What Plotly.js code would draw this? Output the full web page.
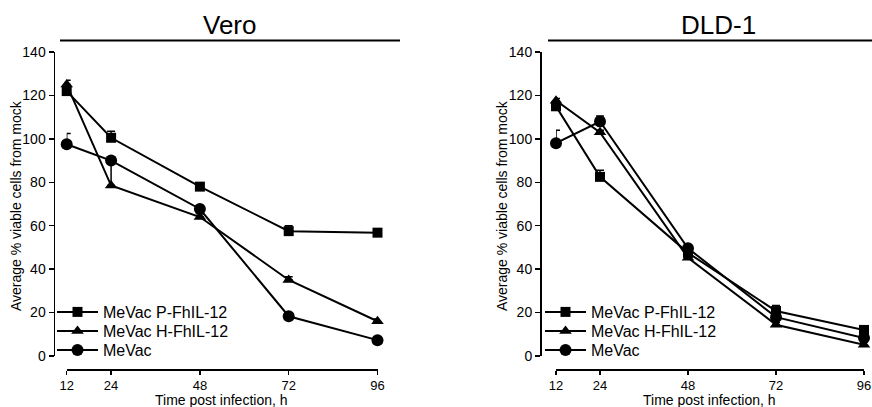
<!DOCTYPE html>
<html>
<head>
<meta charset="utf-8">
<script src="https://cdn.plot.ly/plotly-3.0.1.min.js"></script>
<style>html,body{margin:0;padding:0;background:#fff;}#chart{width:872px;height:407px;}</style>
</head>
<body>
<div id="chart"></div>
<script>
// ---- data ----
const hours = [12, 24, 48, 72, 96];
const tickLabels = ['12', '24', '48', '72', '96'];
const seriesNames = ['MeVac P-FhIL-12', 'MeVac H-FhIL-12', 'MeVac'];

const veroP = [122, 100.5, 78, 57.5, 56.8];
const veroPErr = [1, 3, 1, 2.5, 1.5];
const veroH = [125, 78.5, 64, 35, 16];
const veroHErr = [2, 11, 1.5, 1.5, 1];
const veroM = [97.5, 90, 67.7, 18.3, 7.3];
const veroMErr = [5, 1, 1, 1, 1];

const dldP = [115, 82.5, 47.5, 20.7, 12];
const dldPErr = [1.5, 3, 1, 2.6, 1.5];
const dldH = [117.6, 103, 45.2, 14.4, 5.2];
const dldHErr = [1, 1, 1, 1, 1];
const dldM = [98, 108, 49.6, 17.9, 8.3];
const dldMErr = [6, 2.5, 1, 1, 1];

// ---- layout helpers ----
const W = 872, H = 407;
const px = x => x / W;
const py = y => (H - y) / H;
const FONT = 'Arial, "Liberation Sans", Helvetica, sans-serif';

const symbols = ['square', 'triangle-up', 'circle'];
const sizes = [10, 11, 12];

function mk(y, err, i, xa, ya, leg) {
  return {
    x: hours, y: y, name: seriesNames[i], type: 'scatter', mode: 'lines+markers',
    xaxis: xa, yaxis: ya, legend: leg, cliponaxis: false,
    line: {color: '#000', width: 2},
    marker: {symbol: symbols[i], size: sizes[i], color: '#000'},
    error_y: {type: 'data', symmetric: false, array: err, arrayminus: hours.map(() => 0),
              color: '#000', thickness: 1.5, width: 4}
  };
}

const data = [
  mk(veroP, veroPErr, 0, 'x', 'y', 'legend'),
  mk(veroH, veroHErr, 1, 'x', 'y', 'legend2'),
  mk(veroM, veroMErr, 2, 'x', 'y', 'legend3'),
  mk(dldP, dldPErr, 0, 'x2', 'y2', 'legend4'),
  mk(dldH, dldHErr, 1, 'x2', 'y2', 'legend5'),
  mk(dldM, dldMErr, 2, 'x2', 'y2', 'legend6')
];

const Y0 = 356, Y140 = 52, XAXIS_Y = 369;

function xax(d0, d1) {
  return {domain: [px(d0), px(d1)], range: [12, 96], anchor: 'free', position: py(XAXIS_Y),
    tickvals: hours, ticktext: tickLabels, ticks: 'outside', ticklen: 4, tickwidth: 1.5,
    showline: true, linewidth: 1.5, linecolor: '#000', tickcolor: '#000',
    showgrid: false, zeroline: false, tickfont: {size: 13, color: '#000', family: FONT}};
}
function yax(pos) {
  return {domain: [py(Y0), py(Y140)], range: [0, 140], dtick: 20, anchor: 'free', position: px(pos),
    ticks: 'outside', ticklen: 5, tickwidth: 1.5, showline: true, linewidth: 1.5,
    linecolor: '#000', tickcolor: '#000', showgrid: false, zeroline: false,
    tickfont: {size: 14, color: '#000', family: FONT}};
}

// one legend box per entry so the row spacing matches the reference
function legend(xPix, centerY) {
  return {x: px(xPix), y: py(centerY - 17), xanchor: 'left', yanchor: 'top', bgcolor: 'rgba(0,0,0,0)',
    font: {size: 16, color: '#000', family: FONT}, itemwidth: 41, tracegroupgap: 0};
}

const annFont = {family: FONT, color: '#000', size: 14};
function ann(text, x, y, extra) {
  return Object.assign({text: text, x: px(x), y: py(y), xref: 'paper', yref: 'paper',
    xanchor: 'center', yanchor: 'middle', showarrow: false, font: annFont}, extra || {});
}
const titleFont = {family: FONT, size: 26, color: '#000'};

const layout = {
  width: W, height: H, margin: {l: 0, r: 0, t: 0, b: 0},
  paper_bgcolor: '#fff', plot_bgcolor: 'rgba(0,0,0,0)',
  font: {family: FONT, color: '#000'},
  xaxis: xax(66.7, 377.5), yaxis: yax(53.5),
  xaxis2: xax(556, 864), yaxis2: yax(540),
  legend: legend(52, 312), legend2: legend(52, 331), legend3: legend(52, 350),
  legend4: legend(540, 312), legend5: legend(540, 331), legend6: legend(540, 350),
  showlegend: true,
  annotations: [
    ann('Vero', 230, 25, {font: titleFont}),
    ann('DLD-1', 718, 25, {font: titleFont}),
    ann('Average % viable cells from mock', 16, 206, {textangle: -90}),
    ann('Average % viable cells from mock', 502, 206, {textangle: -90}),
    ann('Time post infection, h', 221.5, 399.5),
    ann('Time post infection, h', 709, 399.5)
  ],
  shapes: [
    {type: 'line', xref: 'paper', yref: 'paper', x0: px(60), x1: px(400), y0: py(40.5), y1: py(40.5),
     line: {color: '#000', width: 2}},
    {type: 'line', xref: 'paper', yref: 'paper', x0: px(548), x1: 1, y0: py(40.5), y1: py(40.5),
     line: {color: '#000', width: 2}}
  ]
};

Plotly.newPlot('chart', data, layout, {staticPlot: true, displayModeBar: false});
</script>
</body>
</html>
